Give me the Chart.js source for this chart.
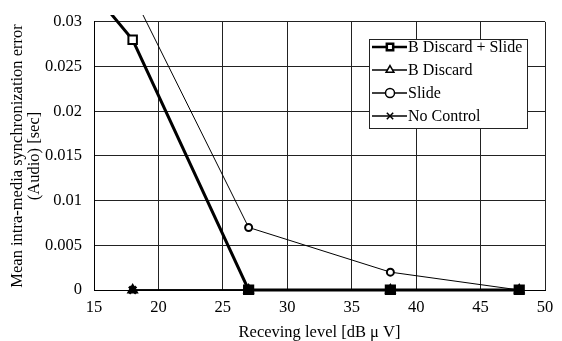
<!DOCTYPE html>
<html>
<head>
<meta charset="utf-8">
<script src="https://cdn.jsdelivr.net/npm/chart.js@4.4.1/dist/chart.umd.min.js"></script>
<style>
  html, body { margin: 0; padding: 0; background: #fff; }
  #wrap { width: 562px; height: 341px; }
</style>
</head>
<body>
<div id="wrap"><canvas id="myChart" width="562" height="341"></canvas></div>
<script>
// values
const seriesNames = ["B Discard + Slide", "B Discard", "Slide", "No Control"];
const xBDiscardSlide = [15, 18, 27, 38, 48];
const yBDiscardSlide = [0.0332, 0.028, 0, 0, 0];
const xBDiscard = [18, 27, 38, 48];
const yBDiscard = [0, 0, 0, 0];
const xSlide = [18, 27, 38, 48];
const ySlide = [0.0331, 0.007, 0.002, 0];
const xNoControl = [18, 27, 38, 48];
const yNoControl = [0, 0, 0, 0];
const xTicks = [15, 20, 25, 30, 35, 40, 45, 50];
const yTicks = ["0", "0.005", "0.01", "0.015", "0.02", "0.025", "0.03"];

function pts(xs, ys) {
  return xs.map((x, i) => ({ x: x, y: ys[i] }));
}

const font = "Liberation Serif";
const fs = 16.5;

// legend box drawn inside the plot like the original
const boxLegend = {
  id: "boxLegend",
  afterDraw(chart) {
    const ctx = chart.ctx;
    const x0 = 369, y0 = 39, w = 158, h = 89;
    ctx.save();
    ctx.fillStyle = "#fff";
    ctx.fillRect(x0, y0, w, h);
    ctx.strokeStyle = "#222";
    ctx.lineWidth = 1;
    ctx.strokeRect(x0 + 0.5, y0 + 0.5, w, h);
    ctx.font = "16px '" + font + "'";
    ctx.textBaseline = "middle";
    chart.data.datasets.forEach((ds, i) => {
      const y = y0 + 8 + i * 23;
      ctx.strokeStyle = "#000";
      ctx.lineWidth = i == 0 ? 2.5 : 1.5;
      ctx.beginPath();
      ctx.moveTo(x0 + 3, y);
      ctx.lineTo(x0 + 38, y);
      ctx.stroke();
      ctx.fillStyle = "#fff";
      Chart.helpers.drawPoint(ctx, {
        pointStyle: ds.pointStyle,
        radius: 4.5,
        borderWidth: 2
      }, x0 + 21, y);
      ctx.fillStyle = "#000";
      ctx.fillText(ds.label, x0 + 39, y + 1);
    });
    ctx.restore();
  }
};

const ctx = document.getElementById("myChart");

new Chart(ctx, {
  type: "line",
  data: {
    datasets: [
      {
        label: seriesNames[0],
        data: pts(xBDiscardSlide, yBDiscardSlide),
        borderColor: "#000",
        borderWidth: 3,
        pointStyle: "rect",
        pointRadius: [0, 6, 6.5, 6.5, 6.5],
        // at zero the four markers pile up into a black block
        pointBackgroundColor: (c) => (c.raw && c.raw.y === 0 ? "#000" : "#fff"),
        pointBorderColor: "#000",
        pointBorderWidth: 2,
        clip: { left: 0, top: 7, right: 5, bottom: 5 },
      },
      {
        label: seriesNames[1],
        data: pts(xBDiscard, yBDiscard),
        borderColor: "#000",
        borderWidth: 1.5,
        pointStyle: "triangle",
        pointRadius: 5,
        pointBackgroundColor: "#000",
        pointBorderColor: "#000",
        pointBorderWidth: 2,
        clip: 5,
      },
      {
        label: seriesNames[2],
        data: pts(xSlide, ySlide),
        borderColor: "#000",
        borderWidth: 1,
        pointStyle: "circle",
        pointRadius: 3.5,
        pointBackgroundColor: "#fff",
        pointBorderColor: "#000",
        pointBorderWidth: 2,
        clip: { left: 0, top: 7, right: 5, bottom: 5 },
      },
      {
        label: seriesNames[3],
        data: pts(xNoControl, yNoControl),
        borderColor: "#000",
        borderWidth: 1.5,
        pointStyle: "crossRot",
        pointRadius: 5,
        pointBorderColor: "#000",
        pointBorderWidth: 3,
        clip: 5,
      },
    ],
  },
  options: {
    responsive: false,
    animation: false,
    layout: { padding: { top: 12, right: 17, left: 0, bottom: 0 } },
    plugins: {
      legend: { display: false },
      tooltip: { enabled: false },
    },
    scales: {
      x: {
        type: "linear",
        min: 15,
        max: 50,
        afterBuildTicks: (s) => { s.ticks = xTicks.map((v) => ({ value: v })); },
        afterFit: (s) => { s.height = 51; },
        ticks: { color: "#000", font: { family: font, size: fs }, padding: 8, maxRotation: 0 },
        grid: { color: "#222", lineWidth: 1, drawTicks: false },
        border: { color: "#000", width: 1 },
        title: {
          display: true,
          text: "Receving level [dB \u03bc V]",
          color: "#000",
          font: { family: font, size: fs, lineHeight: 1.0 },
          padding: { top: 0, bottom: 0 },
        },
      },
      y: {
        min: 0,
        max: 0.03,
        afterBuildTicks: (s) => { s.ticks = yTicks.map((v) => ({ value: parseFloat(v) })); },
        afterFit: (s) => { s.width = 94; },
        ticks: {
          color: "#000",
          font: { family: font, size: fs },
          padding: 12,
          callback: (v, i) => yTicks[i],
        },
        grid: { color: "#222", lineWidth: 1, drawTicks: false },
        border: { color: "#000", width: 1 },
        title: {
          display: true,
          text: ["Mean intra-media synchronization error", "(Audio) [sec]"],
          color: "#000",
          font: { family: font, size: fs, lineHeight: 1.05 },
          padding: { top: 9, bottom: 0 },
        },
      },
    },
  },
  plugins: [boxLegend],
});
</script>
</body>
</html>
